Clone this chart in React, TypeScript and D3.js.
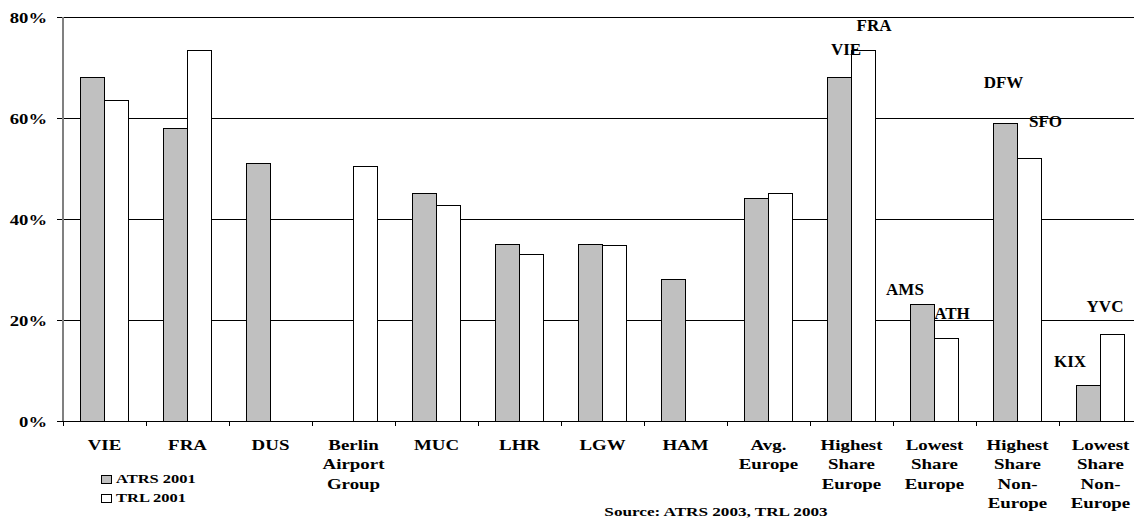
import React from "react";
import * as d3 from "d3";

const categories: string[][] = [
  ["VIE"],
  ["FRA"],
  ["DUS"],
  ["Berlin", "Airport", "Group"],
  ["MUC"],
  ["LHR"],
  ["LGW"],
  ["HAM"],
  ["Avg.", "Europe"],
  ["Highest", "Share", "Europe"],
  ["Lowest", "Share", "Europe"],
  ["Highest", "Share", "Non-", "Europe"],
  ["Lowest", "Share", "Non-", "Europe"],
];
const seriesNames = ["ATRS 2001", "TRL 2001"];
const atrs: (number | null)[] = [68, 58, 51, null, 45, 35, 35, 28, 44, 68, 23, 59, 7];
const trl: (number | null)[] = [63.4, 73.4, null, 50.3, 42.7, 33, 34.7, null, 45, 73.4, 16.3, 52, 17.2];
const yTicks = [0, 20, 40, 60, 80];
const annotations = [
  { label: "VIE", cat: 9, series: 0 },
  { label: "FRA", cat: 9, series: 1 },
  { label: "AMS", cat: 10, series: 0 },
  { label: "ATH", cat: 10, series: 1 },
  { label: "DFW", cat: 11, series: 0 },
  { label: "SFO", cat: 11, series: 1 },
  { label: "KIX", cat: 12, series: 0 },
  { label: "YVC", cat: 12, series: 1 },
];
const sourceText = "Source: ATRS 2003, TRL 2003";

// layout offsets of annotation labels relative to bar top-centre
const annOffsets: Record<string, [number, number]> = {
  VIE: [6.5, -22.6],
  FRA: [10.5, -19],
  AMS: [-17.5, -10],
  ATH: [5.5, -20],
  DFW: [-2, -35],
  SFO: [16, -31.4],
  KIX: [-18.5, -19],
  YVC: [-7.5, -22],
};

const W = 1134;
const H = 521;
const left = 63;
const right = 1142;
const top = 17;
const bottom = 421;
const font = "'Liberation Serif', 'Times New Roman', serif";
const SX = 1.35;

export default function App() {
  const x0 = d3
    .scaleBand<number>()
    .domain(d3.range(categories.length))
    .range([left, right])
    .padding(0);
  const x1 = d3
    .scaleBand<number>()
    .domain([0, 1])
    .range([0, x0.bandwidth()])
    .paddingInner(0)
    .paddingOuter(0.729);
  const y = d3.scaleLinear().domain([0, 80]).range([bottom, top]);
  const series = [atrs, trl];
  const fills = ["#c0c0c0", "#ffffff"];

  return (
    <svg
      width={W}
      height={H}
      style={{ position: "absolute", left: 0, top: 0, background: "#fff" }}
      fontFamily={font}
      fontWeight="bold"
    >
      <rect x={0} y={0} width={W} height={H} fill="#fff" />
      {/* gridlines */}
      {yTicks.map((t) => (
        <line key={"g" + t} x1={57} x2={W} y1={y(t)} y2={y(t)} stroke="#000" strokeWidth={1} shapeRendering="crispEdges" />
      ))}
      {/* y axis */}
      <line x1={left} x2={left} y1={top} y2={bottom} stroke="#808080" strokeWidth={1.5} shapeRendering="crispEdges" />
      {yTicks.map((t) => (
        <text
          key={"yl" + t}
          transform={`translate(47,${y(t) + 6}) scale(${SX},1)`}
          textAnchor="end"
          fontSize={13.8}
        >
          {t + "%"}
        </text>
      ))}
      {/* bars */}
      {series.map((vals, s) =>
        vals.map((v, i) =>
          v == null ? null : (
            <rect
              key={`b${s}-${i}`}
              x={(x0(i) as number) + (x1(s) as number)}
              y={y(v)}
              width={x1.bandwidth()}
              height={y(0) - y(v)}
              fill={fills[s]}
              stroke="#000"
              strokeWidth={1}
              shapeRendering="crispEdges"
            />
          )
        )
      )}
      {/* baseline */}
      <line x1={57} x2={W} y1={bottom} y2={bottom} stroke="#000" strokeWidth={1} shapeRendering="crispEdges" />
      {/* category ticks */}
      {d3.range(categories.length + 1).map((i) => {
        const xx = left + i * x0.step();
        return <line key={"t" + i} x1={xx} x2={xx} y1={bottom} y2={bottom + 5} stroke="#000" shapeRendering="crispEdges" />;
      })}
      {/* category labels */}
      {categories.map((lines, i) => {
        const cx = (x0(i) as number) + x0.bandwidth() / 2;
        return lines.map((ln, k) => (
          <text
            key={`c${i}-${k}`}
            transform={`translate(${cx},${450 + k * 19.3}) scale(${SX},1)`}
            textAnchor="middle"
            fontSize={14}
          >
            {ln}
          </text>
        ));
      })}
      {/* annotations */}
      {annotations.map((a) => {
        const v = series[a.series][a.cat] as number;
        const bx = (x0(a.cat) as number) + (x1(a.series) as number) + x1.bandwidth() / 2;
        const [dx, dy] = annOffsets[a.label];
        return (
          <text key={"a" + a.label} x={bx + dx} y={y(v) + dy} textAnchor="middle" fontSize={17}>
            {a.label}
          </text>
        );
      })}
      {/* legend */}
      {seriesNames.map((n, s) => (
        <g key={"lg" + s}>
          <rect x={101} y={475 + s * 19} width={10} height={8} fill={fills[s]} stroke="#000" strokeWidth={1} shapeRendering="crispEdges" />
          <text transform={`translate(116,${483 + s * 19}) scale(1.32,1)`} fontSize={12.5}>
            {n}
          </text>
        </g>
      ))}
      {/* source */}
      <text transform={`translate(716,516) scale(1.27,1)`} textAnchor="middle" fontSize={13.5}>
        {sourceText}
      </text>
    </svg>
  );
}
